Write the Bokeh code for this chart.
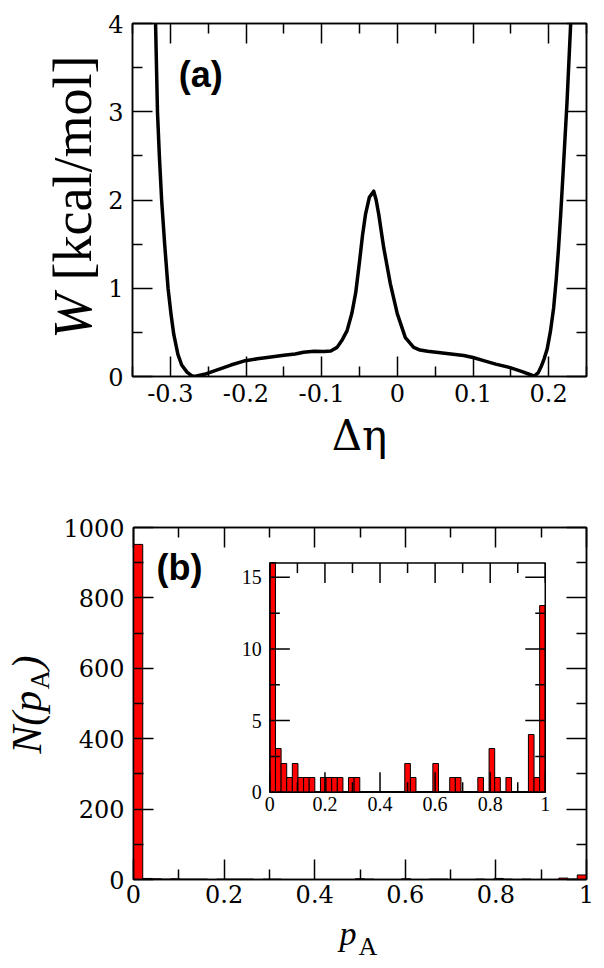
import numpy as np
from bokeh.plotting import figure
from bokeh.layouts import column, row
from bokeh.models import Range1d, FixedTicker, LinearAxis, Label
from bokeh.core.properties import value
from bokeh.embed import file_html
from bokeh.resources import INLINE

# ---------------- Panel (a): free energy profile ----------------
eta = [-0.3196, -0.3170, -0.3145, -0.3115, -0.3075, -0.3030, -0.2990, -0.2955,
       -0.2900, -0.2850, -0.2780, -0.2720, -0.2680, -0.2550, -0.2380, -0.2200,
       -0.2030, -0.1850, -0.1720, -0.1500, -0.1350, -0.1240, -0.1100, -0.0970,
       -0.0880, -0.0796, -0.0725, -0.0664, -0.0600, -0.0550, -0.0500, -0.0460,
       -0.0420, -0.0370, -0.0312, -0.0280, -0.0246, -0.0180, -0.0092, 0.0000,
       0.0106, 0.0216, 0.0300, 0.0400, 0.0569, 0.0877, 0.1000, 0.1140,
       0.1300, 0.1490, 0.1650, 0.1760, 0.1810, 0.1860, 0.1900, 0.1940,
       0.1980, 0.2025, 0.2066, 0.2100, 0.2130, 0.2160, 0.2190, 0.2242, 0.2292]
W = [4.03, 3.00, 2.50, 2.00, 1.50, 1.00, 0.70, 0.48,
     0.25, 0.13, 0.05, 0.01, 0.00, 0.025, 0.075, 0.13,
     0.175, 0.20, 0.215, 0.24, 0.255, 0.275, 0.285, 0.283,
     0.29, 0.33, 0.42, 0.52, 0.72, 0.95, 1.30, 1.60,
     1.84, 2.03, 2.10, 2.00, 1.84, 1.46, 1.05, 0.71,
     0.44, 0.33, 0.30, 0.285, 0.27, 0.238, 0.215, 0.18,
     0.14, 0.10, 0.055, 0.02, 0.005, 0.04, 0.11, 0.20,
     0.31, 0.52, 0.78, 1.10, 1.45, 1.85, 2.30, 3.10, 4.02]

eta_ticks = [-0.3, -0.2, -0.1, 0.0, 0.1, 0.2]
eta_tick_labels = ["-0.3", "-0.2", "-0.1", "0", "0.1", "0.2"]
eta_minor = [-0.35, -0.25, -0.15, -0.05, 0.05, 0.15, 0.25]
W_ticks = [0, 1, 2, 3, 4]
W_tick_labels = ["0", "1", "2", "3", "4"]
W_minor = [0.5, 1.5, 2.5, 3.5]

# ---------------- Panel (b): histogram of p_A ----------------
n_bins = 49
pA_edges = np.linspace(0.0, 1.0, n_bins + 1)
counts = [952, 3, 2, 1, 2, 1, 1, 1, 0, 1,
          1, 1, 1, 0, 1, 1, 0, 0, 0, 0,
          0, 0, 0, 0, 2, 1, 0, 0, 0, 2,
          0, 0, 1, 1, 0, 0, 0, 1, 0, 3,
          1, 0, 1, 0, 0, 0, 4, 1, 13]

pA_ticks = [0.0, 0.2, 0.4, 0.6, 0.8, 1.0]
pA_tick_labels = ["0", "0.2", "0.4", "0.6", "0.8", "1"]
pA_minor = [0.1, 0.3, 0.5, 0.7, 0.9]
N_ticks = [0, 200, 400, 600, 800, 1000]
N_tick_labels = ["0", "200", "400", "600", "800", "1000"]
N_minor = [100, 300, 500, 700, 900]

inset_y_max = 16
inset_y_ticks = [0, 5, 10, 15]
inset_y_labels = ["0", "5", "10", "15"]
inset_y_minor = [2.5, 7.5, 12.5]
inset_x_ticks = [0.0, 0.2, 0.4, 0.6, 0.8, 1.0]
inset_x_labels = ["0", "0.2", "0.4", "0.6", "0.8", "1"]
inset_x_minor = [0.1, 0.3, 0.5, 0.7, 0.9]

SERIF = "Times New Roman"
AXFONT = "DejaVu Serif"
SANS = "Liberation Sans"


def style_axes(p, xt, xl, xm, yt, yl, ym, font, size, xstand=6, ystand=9):
    p.xgrid.visible = False
    p.ygrid.visible = False
    p.outline_line_color = "black"
    p.outline_line_width = 1.5
    p.background_fill_color = "white"
    p.border_fill_color = "white"
    xtk = FixedTicker(ticks=xt, minor_ticks=xm)
    ytk = FixedTicker(ticks=yt, minor_ticks=ym)
    xa = p.below[0]
    ya = p.left[0]
    xa.ticker = xtk
    ya.ticker = ytk
    xa.major_label_overrides = dict(zip(xt, xl))
    ya.major_label_overrides = dict(zip(yt, yl))
    xa.major_label_standoff = xstand
    ya.major_label_standoff = ystand
    top = LinearAxis(ticker=xtk)
    right = LinearAxis(ticker=ytk)
    p.add_layout(top, "above")
    p.add_layout(right, "right")
    for ax in (xa, ya, top, right):
        ax.major_tick_in = 20
        ax.major_tick_out = 0
        ax.minor_tick_in = 10
        ax.minor_tick_out = 0
        ax.major_tick_line_width = 1.5
        ax.minor_tick_line_width = 1.5
        ax.major_tick_line_color = "black"
        ax.minor_tick_line_color = "black"
        ax.axis_line_width = 1.5
        ax.axis_line_color = "black"
        ax.major_label_text_font = font
        ax.major_label_text_font_style = "normal"
        ax.major_label_text_font_size = size
        ax.major_label_text_color = "black"
    for ax, ticks in ((top, xt), (right, yt)):
        ax.major_label_text_font_size = "0px"
        ax.major_label_standoff = 0
        ax.major_label_overrides = {t: "" for t in ticks}
    return xa, ya


def strip(w, h):
    s = figure(width=w, height=h, x_range=Range1d(0, w), y_range=Range1d(0, h),
               output_backend="svg", toolbar_location=None, min_border=0,
               x_axis_location=None, y_axis_location=None, title=None, frame_align=False)
    s.outline_line_color = None
    s.background_fill_color = "white"
    s.border_fill_color = "white"
    s.grid.visible = False
    return s


def put(s, x, y, txt, size, style="normal", angle=0.0, font=SERIF):
    s.text(x=[x], y=[y], text=[txt], angle=angle, text_font=value(font),
           text_font_style=style, text_font_size=size, text_color="black",
           text_align="left", text_baseline="middle")


# ---------------- Figure (a) ----------------
p1 = figure(width=492, height=484, x_range=Range1d(-0.35, 0.25), y_range=Range1d(0, 4),
            output_backend="svg", toolbar_location=None, title=None, frame_align=False,
            min_border_left=28, min_border_right=10, min_border_top=23, min_border_bottom=108)
xa1, ya1 = style_axes(p1, eta_ticks, eta_tick_labels, eta_minor, W_ticks, W_tick_labels,
                      W_minor, AXFONT, "24px", xstand=7)
p1.line(eta, W, line_width=3.5, line_color="black", line_join="round")
xa1.axis_label = "Δη"
xa1.axis_label_text_font = AXFONT
xa1.axis_label_text_font_style = "normal"
xa1.axis_label_text_font_size = "42px"
xa1.axis_label_text_color = "black"
xa1.axis_label_standoff = 6

p1.add_layout(Label(x=-0.289, y=3.417, text="(a)", text_font=SANS, text_font_style="bold",
                    text_font_size="36px", text_color="black", text_baseline="middle"))

ylab1 = strip(104, 484)
put(ylab1, 72, 145.7, "W", "54px", "italic", np.pi / 2)
put(ylab1, 72, 204, "[kcal/mol]", "54px", "normal", np.pi / 2)

# ---------------- Figure (b) ----------------
p2 = figure(width=536, height=430, x_range=Range1d(0, 1), y_range=Range1d(0, 1000),
            output_backend="svg", toolbar_location=None, title=None, frame_align=False,
            min_border_left=72, min_border_right=10, min_border_top=43, min_border_bottom=35)
style_axes(p2, pA_ticks, pA_tick_labels, pA_minor, N_ticks, N_tick_labels, N_minor,
           AXFONT, "24px", xstand=5)
p2.quad(left=pA_edges[:-1], right=pA_edges[1:], bottom=0, top=counts,
        fill_color="#ff0000", line_color="black", line_width=1)

p2.add_layout(Label(x=0.0507, y=886, text="(b)", text_font=SANS, text_font_style="bold",
                    text_font_size="36px", text_color="black", text_baseline="middle"))

ylab2 = strip(60, 430)
put(ylab2, 26, 160.7, "N(p", "42px", "italic", np.pi / 2)
put(ylab2, 39, 225, "A", "27px", "normal", np.pi / 2)
put(ylab2, 26, 245, ")", "42px", "italic", np.pi / 2)

xlab2 = strip(596, 54)
put(xlab2, 339, 35, "p", "34px", "italic")
put(xlab2, 358, 21.8, "A", "26px", "normal")

# ---------------- Inset ----------------
inset = p2.subplot(x_source=Range1d(0, 1), y_source=Range1d(0, inset_y_max),
                   x_target=Range1d(0.301, 0.909), y_target=Range1d(248, 899))
inset.quad(left=[0], right=[1], bottom=[0], top=[inset_y_max], fill_color="white", line_color=None)
inset.quad(left=pA_edges[:-1], right=pA_edges[1:], bottom=0,
           top=np.minimum(np.array(counts), inset_y_max),
           fill_color="#ff0000", line_color="black", line_width=1)


def inset_ticks(xs, ys, length, angle):
    inset.ray(x=xs, y=ys, length=length, length_units="screen", angle=angle,
              line_color="black", line_width=1.5)


inset_ticks(inset_x_ticks, [0] * len(inset_x_ticks), 20, np.pi / 2)
inset_ticks(inset_x_minor, [0] * len(inset_x_minor), 10, np.pi / 2)
inset_ticks(inset_x_ticks, [inset_y_max] * len(inset_x_ticks), 20, -np.pi / 2)
inset_ticks(inset_x_minor, [inset_y_max] * len(inset_x_minor), 10, -np.pi / 2)
inset_ticks([0] * len(inset_y_ticks), inset_y_ticks, 20, 0)
inset_ticks([0] * len(inset_y_minor), inset_y_minor, 10, 0)
inset_ticks([1] * len(inset_y_ticks), inset_y_ticks, 20, np.pi)
inset_ticks([1] * len(inset_y_minor), inset_y_minor, 10, np.pi)
inset.quad(left=[0], right=[1], bottom=[0], top=[inset_y_max], fill_color=None,
           line_color="black", line_width=1.5)

inset.text(x=inset_x_ticks, y=[0] * len(inset_x_ticks), text=inset_x_labels,
           text_align="center", text_baseline="top", y_offset=5,
           text_font=value(SERIF), text_font_size="20px", text_color="black")
inset.text(x=[0] * len(inset_y_ticks), y=inset_y_ticks, text=inset_y_labels,
           text_align="right", text_baseline="middle", x_offset=-8,
           text_font=value(SERIF), text_font_size="20px", text_color="black")

layout = column(row(ylab1, p1), row(ylab2, p2), xlab2)
open("out.html", "w").write(file_html(layout, INLINE))
